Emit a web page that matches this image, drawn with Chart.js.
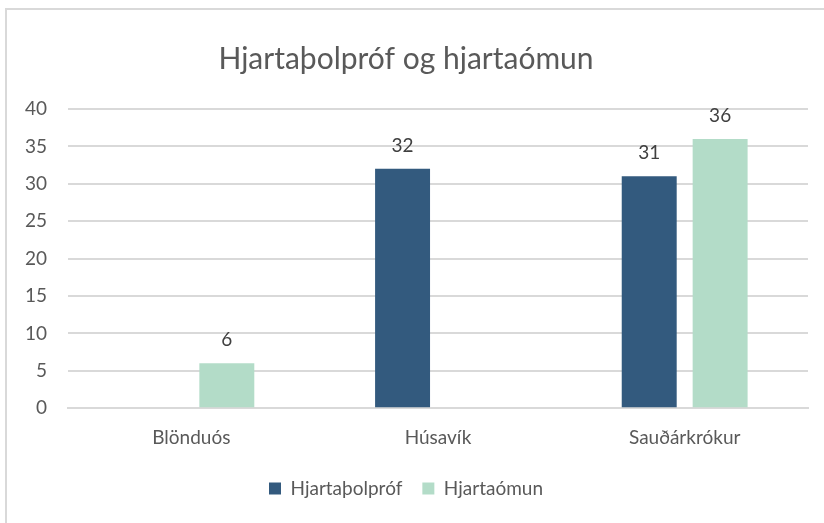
<!DOCTYPE html>
<html>
<head>
<meta charset="utf-8">
<script src="https://cdn.jsdelivr.net/npm/chart.js@4"></script>
<style>
    body { margin: 0; background: #fff; }
    #frame {
        position: absolute; left: 5px; top: 8px; width: 830px; height: 530px;
        border: 2px solid #d9d9d9; box-sizing: border-box;
    }
    #wrap { position: absolute; left: 0; top: 0; width: 824px; height: 523px; }
</style>
</head>
<body>
<div id="frame"></div>
<div id="wrap"><canvas id="chart" width="824" height="523"></canvas></div>
<script>
const CATEGORIES = ['Blönduós', 'Húsavík', 'Sauðárkrókur'];
const THOLPROF = [null, 32, 31];
const OMUN = [6, null, 36];
const Y_TICKS = [0, 5, 10, 15, 20, 25, 30, 35, 40];

const FONT = "Lato, 'Open Sans', sans-serif";
const TEXT = '#595959';

// Value labels above each bar
const barLabels = {
    id: 'barLabels',
    afterDatasetsDraw(chart) {
        const ctx = chart.ctx;
        ctx.save();
        ctx.font = `19px ${FONT}`;
        ctx.fillStyle = '#404040';
        ctx.textAlign = 'center';
        ctx.textBaseline = 'middle';
        chart.data.datasets.forEach((ds, i) => {
            chart.getDatasetMeta(i).data.forEach((bar, j) => {
                if (ds.data[j] == null) return;
                ctx.fillText(ds.data[j], bar.x, bar.y - 23);
            });
        });
        ctx.restore();
    }
};

new Chart(document.getElementById('chart'), {
    type: 'bar',
    data: {
        labels: CATEGORIES,
        datasets: [
            { label: 'Hjartaþolpróf', data: THOLPROF, backgroundColor: '#335a7e' },
            { label: 'Hjartaómun', data: OMUN, backgroundColor: '#b3dcc8' }
        ]
    },
    options: {
        responsive: false,
        animation: false,
        categoryPercentage: 0.575,
        barPercentage: 0.775,
        layout: { padding: { left: 4, right: 16, top: 10, bottom: 15 } },
        plugins: {
            title: {
                display: true,
                text: 'Hjartaþolpróf og hjartaómun',
                color: TEXT,
                font: { family: FONT, size: 30, weight: 'normal' },
                padding: { top: 31, bottom: 32 }
            },
            legend: {
                position: 'bottom',
                labels: {
                    color: TEXT,
                    font: { family: FONT, size: 19 },
                    boxWidth: 12, boxHeight: 12,
                    padding: 20
                }
            },
            tooltip: { enabled: false }
        },
        scales: {
            x: {
                grid: { display: false },
                border: { color: '#d9d9d9', width: 2 },
                ticks: { color: TEXT, font: { family: FONT, size: 19 }, padding: 10 }
            },
            y: {
                min: 0, max: 40,
                afterBuildTicks(axis) { axis.ticks = Y_TICKS.map(v => ({ value: v })); },
                grid: { color: '#d9d9d9', lineWidth: 2, drawTicks: false },
                border: { display: false },
                ticks: { color: TEXT, font: { family: FONT, size: 19 }, padding: 21 }
            }
        }
    },
    plugins: [barLabels]
});
</script>
</body>
</html>
